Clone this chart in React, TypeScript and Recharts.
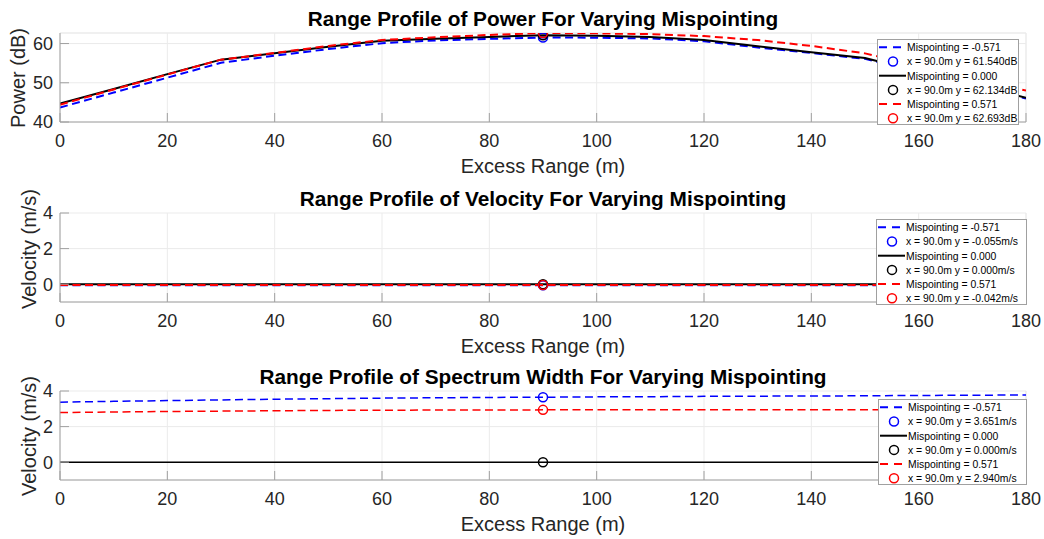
import React from 'react';
import { ComposedChart, Line, Scatter, XAxis, YAxis, CartesianGrid, Legend, ReferenceLine, Label } from 'recharts';

const FONT = '"Liberation Sans", Arial, Helvetica, sans-serif';
const AXIS = '#a0a0a0';
const GRID = '#ebebeb';
const TEXT = '#262626';

// excess range samples (m)
const rangeM = [0, 10, 20, 30, 40, 50, 60, 70, 80, 90, 100, 110, 120, 130, 140, 150, 160, 170, 180];
const xTicks = [0, 20, 40, 60, 80, 100, 120, 140, 160, 180];
const mispointing = [-0.571, 0.0, 0.571];
const markerX = 90;

const powerNeg = [43.7, 47.5, 51.3, 55.1, 56.9, 58.6, 60.1, 60.8, 61.2, 61.54, 61.5, 61.3, 60.6, 59.0, 57.6, 56.1, 52.7, 49.4, 46.0];
const powerZero = [44.7, 48.4, 52.2, 55.9, 57.5, 59.2, 60.7, 61.2, 61.7, 62.134, 62.0, 61.7, 60.9, 59.3, 57.8, 56.3, 52.9, 49.6, 46.2];
const powerPos = [44.4, 48.3, 52.1, 55.9, 57.6, 59.4, 60.9, 61.6, 62.2, 62.693, 62.6, 62.4, 61.9, 60.9, 59.4, 57.5, 54.3, 51.2, 48.0];
const powerMarks = [61.54, 62.134, 62.693];

const velNeg = [-0.055, -0.055, -0.055, -0.055, -0.055, -0.055, -0.055, -0.055, -0.055, -0.055, -0.055, -0.055, -0.055, -0.055, -0.055, -0.055, -0.055, -0.055, -0.055];
const velZero = [0, 0, 0, 0, 0, 0, 0, 0, 0, 0, 0, 0, 0, 0, 0, 0, 0, 0, 0];
const velPos = [-0.042, -0.042, -0.042, -0.042, -0.042, -0.042, -0.042, -0.042, -0.042, -0.042, -0.042, -0.042, -0.042, -0.042, -0.042, -0.042, -0.042, -0.042, -0.042];
const velMarks = [-0.055, 0.0, -0.042];

const widthNeg = [3.37, 3.42, 3.46, 3.5, 3.54, 3.57, 3.6, 3.62, 3.64, 3.651, 3.67, 3.68, 3.7, 3.71, 3.72, 3.73, 3.75, 3.76, 3.78];
const widthZero = [0, 0, 0, 0, 0, 0, 0, 0, 0, 0, 0, 0, 0, 0, 0, 0, 0, 0, 0];
const widthPos = [2.79, 2.82, 2.85, 2.87, 2.89, 2.91, 2.92, 2.93, 2.935, 2.94, 2.945, 2.95, 2.95, 2.95, 2.95, 2.95, 2.95, 2.95, 2.95];
const widthMarks = [3.651, 0.0, 2.94];

const COLORS = ['#0000ff', '#000000', '#ff0000'];
const DASHED = [true, false, true];
const KEYS = ['neg', 'zero', 'pos'];

const panels = [
  {
    title: 'Range Profile of Power For Varying Mispointing',
    yLabel: 'Power (dB)',
    unit: 'dB',
    series: [powerNeg, powerZero, powerPos],
    marks: powerMarks,
    yMin: 40,
    yMax: Math.max(...powerNeg, ...powerZero, ...powerPos),
    yTicks: [40, 50, 60],
    top: 0,
    height: 180,
    xAxisHeight: 58,
    lineWidth: 2,
    yLabelX: 25,
    yLabelY: 78,
    legend: { left: 877, top: 39, width: 142 },
  },
  {
    title: 'Range Profile of Velocity For Varying Mispointing',
    yLabel: 'Velocity (m/s)',
    unit: 'm/s',
    series: [velNeg, velZero, velPos],
    marks: velMarks,
    yMin: -1,
    yMax: 4,
    yTicks: [0, 2, 4],
    top: 180,
    height: 178,
    xAxisHeight: 56,
    lineWidth: 2,
    yLabelX: 36,
    yLabelY: 69,
    legend: { left: 876, top: 39, width: 151 },
  },
  {
    title: 'Range Profile of Spectrum Width For Varying Mispointing',
    yLabel: 'Velocity (m/s)',
    unit: 'm/s',
    series: [widthNeg, widthZero, widthPos],
    marks: widthMarks,
    yMin: -1,
    yMax: 4,
    yTicks: [0, 2, 4],
    top: 358,
    height: 181,
    xAxisHeight: 59,
    lineWidth: 1.5,
    yLabelX: 36,
    yLabelY: 78,
    legend: { left: 878, top: 41, width: 149 },
  },
];

const XTick = (props: any) => {
  const { x, y, payload } = props;
  return (
    <g>
      <line x1={x} x2={x} y1={y} y2={y - 9} stroke={AXIS} />
      <text x={x} y={y + 24.7} textAnchor="middle" fontSize={18} fill={TEXT} fontFamily={FONT}>
        {payload.value}
      </text>
    </g>
  );
};

const YTick = (props: any) => {
  const { x, y, payload } = props;
  return (
    <g>
      <line x1={x} x2={x + 9} y1={y} y2={y} stroke={AXIS} />
      <text x={x - 7} y={y} dy="0.36em" textAnchor="end" fontSize={18} fill={TEXT} fontFamily={FONT}>
        {payload.value}
      </text>
    </g>
  );
};

const ROW_H = 14.2;
const LEGEND_H = 86;

// legend drawn as svg: a line sample / marker sample and its text on each row
function LegendBox({ p }: { p: any }) {
  const w = p.legend.width;
  const rows: React.ReactNode[] = [];
  mispointing.forEach((m, i) => {
    const cyLine = 8.3 + ROW_H * (2 * i);
    const cyMark = 8.3 + ROW_H * (2 * i + 1);
    rows.push(
      <g key={`l${i}`}>
        <line x1={2} x2={29} y1={cyLine} y2={cyLine} stroke={COLORS[i]} strokeWidth={2}
          strokeDasharray={DASHED[i] ? '8 6' : undefined} />
        <text x={30} y={cyLine + 3.8} fontSize={10.4} fontFamily={FONT} fill="#000">
          {`Mispointing = ${m.toFixed(3)}`}
        </text>
      </g>
    );
    rows.push(
      <g key={`m${i}`}>
        <circle cx={16} cy={cyMark} r={4.5} fill="none" stroke={COLORS[i]} strokeWidth={1.5} />
        <text x={30} y={cyMark + 3.8} fontSize={10.4} fontFamily={FONT} fill="#000">
          {`x = ${markerX.toFixed(1)}m y = ${p.marks[i].toFixed(3)}${p.unit}`}
        </text>
      </g>
    );
  });
  return (
    <svg width={w} height={LEGEND_H} style={{ display: 'block' }}>
      <rect x={0.5} y={0.5} width={w - 1} height={LEGEND_H - 1} fill="#fff" stroke={AXIS} />
      {rows}
    </svg>
  );
}

function Panel({ p }: { p: any }) {
  const data = rangeM.map((x, i) => ({ x, neg: p.series[0][i], zero: p.series[1][i], pos: p.series[2][i] }));
  const plotBottom = p.height - p.xAxisHeight;
  return (
    <div style={{ position: 'absolute', left: 0, top: p.top, width: 1044, height: p.height }}>
      <ComposedChart width={1044} height={p.height} data={data} margin={{ top: 33, right: 18, bottom: 0, left: 0 }}>
        <CartesianGrid stroke={GRID} strokeWidth={1} />
        {!p.yTicks.includes(p.yMax) && <ReferenceLine y={p.yMax} stroke={GRID} ifOverflow="extendDomain" />}
        <ReferenceLine x={180} stroke={GRID} />
        <XAxis
          type="number"
          dataKey="x"
          domain={[0, 180]}
          ticks={xTicks}
          allowDataOverflow
          height={p.xAxisHeight}
          stroke={AXIS}
          tickSize={0}
          tickMargin={0}
          tickLine={false}
          tick={<XTick />}
          interval={0}
        >
          <Label
            content={() => (
              <text x={543} y={plotBottom + 51} textAnchor="middle" fontSize={20} fill={TEXT} fontFamily={FONT}>
                Excess Range (m)
              </text>
            )}
          />
        </XAxis>
        <YAxis
          type="number"
          domain={[p.yMin, p.yMax]}
          ticks={p.yTicks}
          allowDataOverflow
          width={60}
          stroke={AXIS}
          tickSize={0}
          tickMargin={0}
          tickLine={false}
          tick={<YTick />}
          interval={0}
        >
          <Label
            content={() => (
              <text x={p.yLabelX} y={p.yLabelY} transform={`rotate(-90 ${p.yLabelX} ${p.yLabelY})`}
                textAnchor="middle" fontSize={20} fill={TEXT} fontFamily={FONT}>
                {p.yLabel}
              </text>
            )}
          />
        </YAxis>
        {KEYS.map((k, i) => (
          <Line
            key={k}
            type="linear"
            dataKey={k}
            stroke={COLORS[i]}
            strokeWidth={p.lineWidth}
            strokeDasharray={DASHED[i] ? '8 4.5' : undefined}
            dot={false}
            activeDot={false}
            isAnimationActive={false}
          />
        ))}
        {KEYS.map((k, i) => (
          <Scatter
            key={`mark-${k}`}
            data={[{ x: markerX, y: p.marks[i] }]}
            dataKey="y"
            isAnimationActive={false}
            shape={(s: any) => (
              <circle cx={s.cx} cy={s.cy} r={4.5} fill="none" stroke={COLORS[i]} strokeWidth={1.5} />
            )}
          />
        ))}
        <Legend
          layout="horizontal"
          verticalAlign="middle"
          align="center"
          wrapperStyle={{ left: p.legend.left, top: p.legend.top, width: p.legend.width, height: LEGEND_H }}
          content={() => <LegendBox p={p} />}
        />
      </ComposedChart>
      <div style={{
        position: 'absolute', left: 60, top: 8.6, width: 966, textAlign: 'center', fontFamily: FONT,
        fontSize: 20.8, fontWeight: 'bold', lineHeight: '20px', color: '#000', pointerEvents: 'none',
      }}>
        {p.title}
      </div>
    </div>
  );
}

export default function App() {
  return (
    <div style={{ position: 'absolute', left: 0, top: 0, width: 1044, height: 539, background: '#fff', overflow: 'hidden' }}>
      {panels.map((p) => (
        <Panel key={p.title} p={p} />
      ))}
    </div>
  );
}
